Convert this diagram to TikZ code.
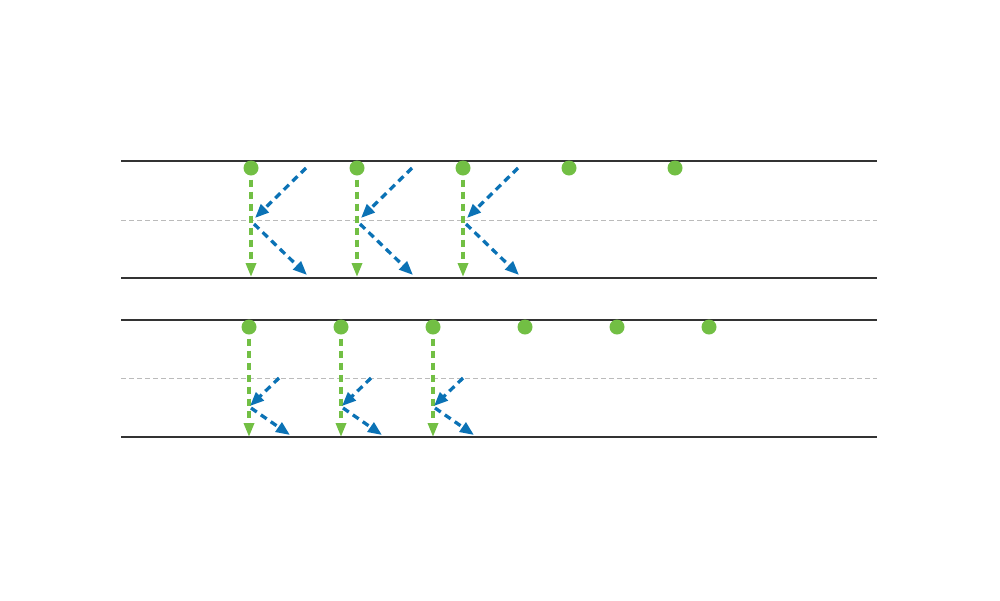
\documentclass[tikz,border=0pt]{standalone}
\usetikzlibrary{arrows.meta}
\definecolor{gr}{HTML}{72BF44}
\definecolor{bl}{HTML}{0B72B5}
\definecolor{ln}{HTML}{333333}
\definecolor{mid}{HTML}{BBBBBB}
\begin{document}
\begin{tikzpicture}[x=1pt,y=-1pt,
  edge/.style={draw=ln,line width=1.4pt},
  midline/.style={draw=mid,line width=1pt,dash pattern=on 5pt off 3pt},
  dot/.style={circle,fill=gr,inner sep=0pt,minimum size=15pt},
  garrow/.style={draw=gr,line width=3.3pt,dash pattern=on 7pt off 5pt,-{Triangle[length=14pt,width=10pt]}},
  barrow/.style={draw=bl,line width=3.3pt,dash pattern=on 7pt off 5pt,-{Triangle[length=14pt,width=11pt]}}]
\useasboundingbox (0,0) rectangle (1000,600);
% top panel
\coordinate (t1a) at (121,161); \coordinate (t1b) at (877,161);
\coordinate (tma) at (121,220); \coordinate (tmb) at (877,220);
\coordinate (t2a) at (121,278); \coordinate (t2b) at (877,278);
\draw[edge] (t1a) -- (t1b);
\draw[edge] (t2a) -- (t2b);
\draw[midline] (tma) -- (tmb);
\foreach \i/\x in {1/251,2/357,3/463,4/569,5/675}{
  \node[dot] (td\i) at (\x,168) {};
}
\foreach \i/\x in {1/251,2/357,3/463}{
  \coordinate (tg\i) at (\x,277);
  \draw[garrow] ([yshift=-4pt]td\i.south) -- (tg\i);
  \coordinate (tbs\i) at (\x+55,168);
  \coordinate (tbm\i) at (\x+4,218);
  \coordinate (tbn\i) at (\x+3,224);
  \coordinate (tbe\i) at (\x+56,275);
  \draw[barrow] (tbs\i) -- (tbm\i);
  \draw[barrow] (tbn\i) -- (tbe\i);
}
% bottom panel
\coordinate (b1a) at (121,320); \coordinate (b1b) at (877,320);
\coordinate (bma) at (121,378); \coordinate (bmb) at (877,378);
\coordinate (b2a) at (121,437); \coordinate (b2b) at (877,437);
\draw[edge] (b1a) -- (b1b);
\draw[edge] (b2a) -- (b2b);
\draw[midline] (bma) -- (bmb);
\foreach \i/\x in {1/249,2/341,3/433,4/525,5/617,6/709}{
  \node[dot] (bd\i) at (\x,327) {};
}
\foreach \i/\x in {1/249,2/341,3/433}{
  \coordinate (bg\i) at (\x,437);
  \draw[garrow] ([yshift=-4pt]bd\i.south) -- (bg\i);
  \coordinate (bbs\i) at (\x+30,378);
  \coordinate (bbm\i) at (\x+1,406);
  \coordinate (bbn\i) at (\x+2,408);
  \coordinate (bbe\i) at (\x+41,435);
  \draw[barrow] (bbs\i) -- (bbm\i);
  \draw[barrow] (bbn\i) -- (bbe\i);
}
\end{tikzpicture}
\end{document}
